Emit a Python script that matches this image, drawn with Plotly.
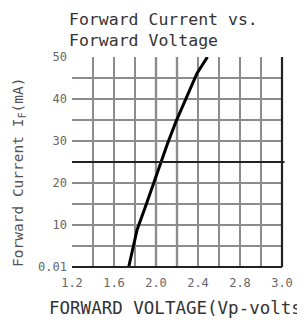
import plotly.graph_objects as go

# Data
voltage = [1.74, 1.78, 1.82, 1.90, 1.97, 2.04, 2.11, 2.19, 2.29, 2.39, 2.49]
current = [0.01, 4.5, 8.9, 14.4, 19.5, 24.7, 29.4, 34.6, 40.5, 46.1, 50.0]

x_tickvals = [1.2, 1.6, 2.0, 2.4, 2.8, 3.2]
x_ticktext = ["1.2", "1.6", "2.0", "2.4", "2.8", "3.0"]
y_tickvals = [0, 10, 20, 30, 40, 50]
y_ticktext = ["0.01", "10", "20", "30", "40", "50"]

title_text = "Forward Current vs.<br>Forward Voltage"
x_title = "FORWARD VOLTAGE(Vp-volts"
y_title = "Forward Current I<sub>F</sub>(mA)"

MONO = "DejaVu Sans Mono"
GRID = "#8c8c8c"

fig = go.Figure()
fig.add_trace(go.Scatter(x=voltage, y=current, mode="lines",
                         line=dict(color="black", width=3),
                         showlegend=False, cliponaxis=True))

# darker reference lines
for xv in [2.0, 2.2]:
    fig.add_shape(type="line", xref="x", yref="paper", x0=xv, x1=xv, y0=0, y1=1,
                  line=dict(color="#222", width=2.2), layer="below")
fig.add_shape(type="line", xref="paper", yref="y", x0=0, x1=1.012, y0=25, y1=25,
              line=dict(color="#222", width=2.2), layer="above")
fig.add_shape(type="line", xref="paper", yref="paper", x0=1, x1=1, y0=0, y1=1,
              line=dict(color="#222", width=2.2))
fig.add_shape(type="line", xref="paper", yref="paper", x0=0, x1=1, y0=0, y1=0,
              line=dict(color="#222", width=2.2))

fig.update_xaxes(range=[1.2, 3.2], tickmode="array", tickvals=x_tickvals, ticktext=x_ticktext,
                 showgrid=True, gridcolor=GRID, gridwidth=2, zeroline=False,
                 minor=dict(dtick=0.2, tick0=1.2, showgrid=True, gridcolor=GRID, gridwidth=2, ticks=""),
                 showline=False, ticks="", ticklabelstandoff=7,
                 tickfont=dict(family=MONO, size=12, color="#666"))
fig.update_yaxes(range=[0, 50], tickmode="array", tickvals=y_tickvals, ticktext=y_ticktext,
                 showgrid=True, gridcolor=GRID, gridwidth=2, zeroline=False,
                 minor=dict(dtick=5, tick0=0, showgrid=True, gridcolor=GRID, gridwidth=2, ticks=""),
                 showline=False, ticks="", ticklabelstandoff=4,
                 tickfont=dict(family=MONO, size=12, color="#666"))

fig.add_annotation(text=title_text, xref="paper", yref="paper", x=-0.02, y=1.228,
                   xanchor="left", yanchor="top", showarrow=False, align="left", borderpad=0,
                   font=dict(family=MONO, size=16.5, color="#333"))
fig.add_annotation(text=x_title, xref="paper", yref="paper", x=0.494, y=-0.195,
                   xanchor="center", yanchor="middle", showarrow=False,
                   font=dict(family=MONO, size=17.5, color="#333"))
fig.add_annotation(text=y_title, xref="paper", yref="paper", x=-0.255, y=0.45,
                   xanchor="center", yanchor="middle", showarrow=False, textangle=-90,
                   font=dict(family=MONO, size=14.5, color="#555"))

# page body adds an 8px offset; size figure so the plot area lands where the reference has it
fig.update_layout(width=297, height=314, margin=dict(l=64, r=18, t=49, b=55),
                  plot_bgcolor="white", paper_bgcolor="white")

fig.write_html("out.html")
